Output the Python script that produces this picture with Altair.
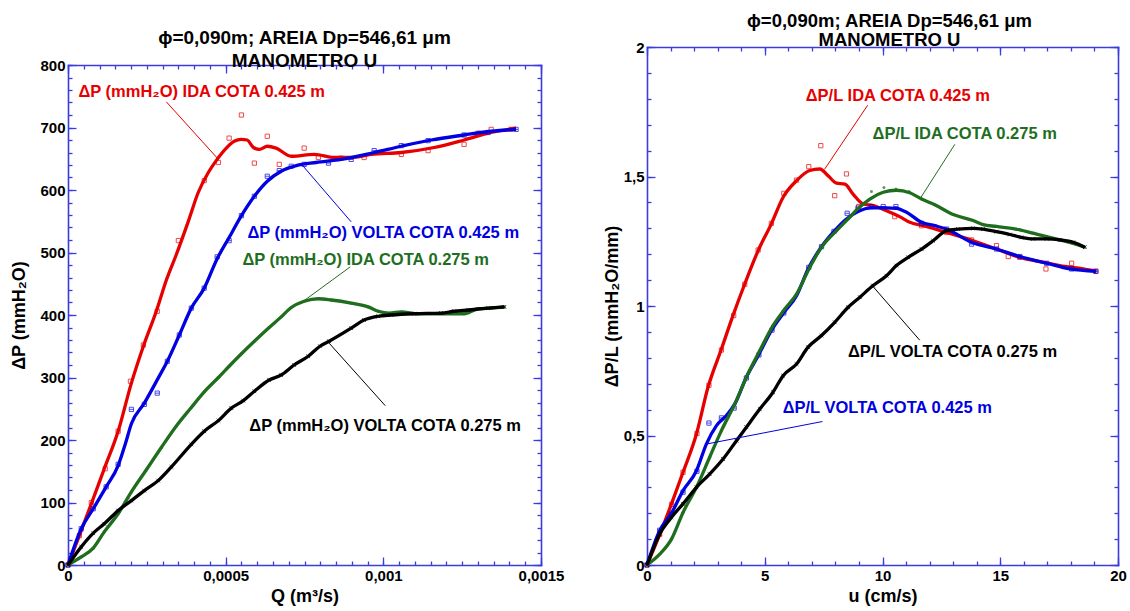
import altair as alt
import pandas as pd

FONT = "Liberation Sans"
FRAME = "#3c3cdc"
RED, BLUE, GREEN, BLACK = "#e60000", "#0000e0", "#1e6e1e", "#000000"

# ---------------- Left panel: ΔP (mmH2O) versus Q (m³/s) ----------------
q_red_line = [0, 0.36e-4, 0.74e-4, 1.15e-4, 1.59e-4, 2.01e-4, 2.39e-4, 2.80e-4, 3.12e-4, 3.43e-4,
              3.81e-4, 4.13e-4, 4.45e-4, 4.70e-4, 5.02e-4, 5.27e-4, 5.50e-4, 5.68e-4, 5.88e-4, 6.07e-4,
              6.32e-4, 6.60e-4, 7.08e-4, 7.81e-4, 8.44e-4, 8.98e-4, 9.62e-4, 10.57e-4, 11.61e-4, 12.56e-4,
              13.42e-4, 14.21e-4]
dp_red_line = [0, 47, 98, 154, 214, 291, 350, 406, 456, 496, 549, 596, 628, 647, 667, 678, 681, 680, 668, 665,
               670, 667, 654, 657, 652, 652, 657, 660, 668, 680, 692, 699]
q_red_pts = [0, 0.36e-4, 0.74e-4, 1.18e-4, 1.59e-4, 1.98e-4, 2.39e-4, 2.83e-4, 3.50e-4, 4.32e-4,
             4.77e-4, 5.11e-4, 5.50e-4, 5.91e-4, 6.32e-4, 6.70e-4, 7.49e-4, 7.94e-4, 8.66e-4, 9.39e-4,
             10.57e-4, 11.42e-4, 12.56e-4, 13.01e-4, 13.42e-4, 14.05e-4]
dp_red_pts = [0, 47, 100, 154, 214, 294, 352, 406, 519, 615, 644, 683, 720, 643, 686, 641, 667, 652, 651, 652,
              657, 663, 673, 691, 697, 697]

q_blue_line = [0, 0.42e-4, 0.80e-4, 1.21e-4, 1.59e-4, 1.82e-4, 2.01e-4, 2.42e-4, 2.86e-4, 3.15e-4,
               3.53e-4, 3.91e-4, 4.32e-4, 4.73e-4, 5.11e-4, 5.50e-4, 5.91e-4, 6.32e-4, 6.76e-4, 7.24e-4,
               7.87e-4, 8.66e-4, 9.71e-4, 10.57e-4, 11.52e-4, 12.56e-4, 13.42e-4, 14.21e-4]
dp_blue_line = [0, 58, 90, 125, 159, 194, 226, 259, 299, 326, 368, 411, 443, 490, 524, 559, 590, 614, 630, 639,
                644, 649, 660, 670, 680, 688, 694, 697]
q_blue_pts = [0, 0.42e-4, 0.80e-4, 1.21e-4, 1.59e-4, 2.01e-4, 2.42e-4, 2.83e-4, 3.15e-4, 3.53e-4,
              3.91e-4, 4.32e-4, 4.73e-4, 5.11e-4, 5.50e-4, 5.91e-4, 6.32e-4, 6.70e-4, 7.08e-4, 7.49e-4,
              8.26e-4, 8.98e-4, 9.71e-4, 10.57e-4, 11.42e-4, 12.56e-4, 13.32e-4, 14.21e-4]
dp_blue_pts = [0, 58, 90, 125, 161, 249, 257, 275, 326, 368, 411, 443, 493, 519, 559, 590, 622, 631, 638, 641,
               643, 649, 663, 671, 679, 688, 692, 697]

q_green_line = [0, 0.42e-4, 0.80e-4, 1.15e-4, 1.59e-4, 2.01e-4, 2.48e-4, 2.96e-4, 3.43e-4, 3.91e-4,
                4.32e-4, 4.77e-4, 5.11e-4, 5.50e-4, 5.91e-4, 6.38e-4, 6.76e-4, 7.08e-4, 7.49e-4, 7.94e-4,
                8.35e-4, 8.98e-4, 9.52e-4, 9.84e-4, 10.19e-4, 10.57e-4, 11.11e-4, 11.83e-4, 12.56e-4, 13.01e-4,
                13.42e-4, 13.84e-4]
dp_green_line = [0, 13, 27, 53, 82, 117, 152, 188, 222, 252, 277, 300, 318, 338, 358, 380, 397, 412, 422, 426,
                 424, 419, 413, 406, 403, 405, 402, 402, 402, 410, 411, 413]

q_black_line = [0, 0.42e-4, 0.80e-4, 1.15e-4, 1.59e-4, 2.01e-4, 2.42e-4, 2.86e-4, 3.28e-4, 3.91e-4,
                4.32e-4, 4.77e-4, 5.18e-4, 5.56e-4, 5.91e-4, 6.38e-4, 6.76e-4, 7.17e-4, 7.62e-4, 7.99e-4,
                8.28e-4, 8.98e-4, 9.39e-4, 9.84e-4, 10.25e-4, 10.98e-4, 11.83e-4, 12.25e-4, 12.69e-4, 13.32e-4,
                13.84e-4]
dp_black_line = [0, 29, 51, 66, 87, 103, 119, 135, 157, 193, 214, 231, 251, 263, 278, 296, 304, 320, 334, 350,
                 358, 379, 392, 398, 400, 402, 403, 406, 408, 411, 413]

left_label_text = ["ΔP (mmH₂O) IDA COTA 0.425 m", "ΔP (mmH₂O) VOLTA COTA 0.425 m",
                   "ΔP (mmH₂O) IDA COTA 0.275 m", "ΔP (mmH₂O) VOLTA COTA 0.275 m"]
left_label_x = [0.33e-4, 5.69e-4, 5.53e-4, 5.75e-4]
left_label_y = [757, 532, 488, 222]
left_lead_x = [3.12e-4, 7.46e-4, 8.95e-4, 8.28e-4]
left_lead_y = [741, 638, 477, 355]
left_lead_x2 = [4.77e-4, 8.98e-4, 7.46e-4, 10.06e-4]
left_lead_y2 = [649, 549, 422, 255]

# ---------------- Right panel: ΔP/L (mmH2O/mm) versus u (cm/s) ----------------
u_red_line = [0, 0.61, 1.04, 1.53, 2.10, 2.59, 3.16, 3.65, 4.15, 4.72, 5.28, 5.78, 6.35, 6.91, 7.34, 7.69,
              8.05, 8.40, 8.75, 9.18, 9.60, 10.17, 10.73, 11.16, 11.72, 12.72, 13.85, 14.84, 15.83, 16.82,
              17.53, 18.52, 19.09]
pl_red_line = [0, 0.134, 0.236, 0.358, 0.506, 0.686, 0.834, 0.963, 1.085, 1.214, 1.317, 1.420, 1.484, 1.523,
               1.529, 1.503, 1.474, 1.471, 1.432, 1.394, 1.388, 1.368, 1.345, 1.323, 1.310, 1.284, 1.252,
               1.220, 1.188, 1.169, 1.156, 1.143, 1.134]
u_red_pts = [0, 0.54, 1.04, 1.53, 2.12, 2.63, 3.16, 3.68, 4.15, 4.72, 5.28, 5.81, 6.35, 6.87, 7.38, 7.97,
             8.47, 8.99, 10.52, 11.66, 12.72, 13.78, 14.84, 15.34, 15.83, 16.94, 18.03, 19.06]
pl_red_pts = [0, 0.118, 0.234, 0.358, 0.508, 0.694, 0.830, 0.963, 1.084, 1.216, 1.319, 1.435, 1.486, 1.538,
              1.619, 1.426, 1.510, 1.384, 1.345, 1.310, 1.284, 1.255, 1.233, 1.191, 1.188, 1.143, 1.165, 1.134]

u_blue_line = [0, 0.54, 1.04, 1.53, 2.10, 2.52, 2.95, 3.37, 3.73, 4.22, 4.72, 5.28, 5.81, 6.35, 6.84, 7.41,
               7.97, 8.47, 8.96, 9.53, 10.17, 10.59, 11.02, 11.66, 12.22, 12.72, 13.78, 14.84, 15.83, 16.97,
               17.96, 19.06]
pl_blue_line = [0, 0.133, 0.200, 0.287, 0.364, 0.467, 0.538, 0.577, 0.622, 0.725, 0.808, 0.905, 0.974, 1.040,
                1.143, 1.229, 1.291, 1.336, 1.365, 1.379, 1.379, 1.377, 1.362, 1.323, 1.310, 1.297, 1.246,
                1.220, 1.191, 1.165, 1.143, 1.134]
u_blue_pts = [0, 0.54, 1.04, 1.53, 2.12, 2.63, 3.16, 3.70, 4.22, 4.75, 5.31, 5.81, 6.87, 7.41, 7.94, 8.50,
              8.96, 9.53, 10.03, 10.57, 11.66, 12.72, 13.78, 14.84, 15.83, 16.97, 18.03, 19.06]
pl_blue_pts = [0, 0.134, 0.197, 0.281, 0.362, 0.548, 0.568, 0.606, 0.722, 0.811, 0.907, 0.973, 1.149, 1.229,
               1.288, 1.358, 1.378, 1.384, 1.384, 1.384, 1.319, 1.297, 1.239, 1.220, 1.191, 1.165, 1.143, 1.134]

u_green_line = [0, 0.54, 1.04, 1.53, 2.10, 2.66, 3.16, 3.73, 4.22, 4.79, 5.35, 5.85, 6.35, 6.91, 7.41, 8.05,
                8.54, 8.90, 9.46, 10.03, 10.59, 11.16, 11.66, 12.22, 13.00, 13.85, 14.27, 14.84, 15.83, 16.40,
                16.97, 17.53, 18.10, 18.59]
pl_green_line = [0, 0.042, 0.100, 0.203, 0.300, 0.416, 0.519, 0.622, 0.725, 0.828, 0.924, 0.988, 1.046, 1.149,
                 1.227, 1.291, 1.336, 1.371, 1.413, 1.439, 1.447, 1.437, 1.413, 1.391, 1.353, 1.330, 1.314,
                 1.307, 1.294, 1.281, 1.268, 1.255, 1.242, 1.227]
u_green_pts = [0, 1.04, 1.53, 2.10, 2.66, 3.16, 3.73, 4.22, 4.79, 5.35, 5.85, 6.35, 6.91, 7.41, 8.05, 8.54,
               9.53, 10.06, 10.57, 11.13, 11.66, 12.22, 13.00, 13.85, 14.84, 15.83, 16.40, 16.97, 17.53, 18.10,
               18.59]
pl_green_pts = [0, 0.100, 0.203, 0.300, 0.416, 0.519, 0.622, 0.725, 0.828, 0.924, 0.988, 1.046, 1.149, 1.227,
                1.291, 1.336, 1.442, 1.458, 1.452, 1.442, 1.413, 1.391, 1.353, 1.330, 1.307, 1.294, 1.281,
                1.268, 1.255, 1.242, 1.227]

u_black_line = [0, 0.54, 1.04, 1.53, 2.10, 2.66, 3.23, 3.80, 4.22, 4.79, 5.35, 5.78, 6.35, 6.84, 7.41, 7.97,
                8.54, 9.04, 9.60, 10.17, 10.59, 11.09, 11.66, 12.15, 12.72, 13.21, 13.85, 14.27, 14.84, 15.41,
                15.90, 16.40, 16.97, 17.53, 18.10, 18.59]
pl_black_line = [0, 0.120, 0.184, 0.236, 0.300, 0.351, 0.409, 0.480, 0.532, 0.602, 0.667, 0.731, 0.776, 0.841,
                 0.886, 0.937, 0.995, 1.034, 1.079, 1.117, 1.156, 1.188, 1.220, 1.252, 1.291, 1.297, 1.300,
                 1.297, 1.287, 1.276, 1.265, 1.259, 1.259, 1.255, 1.246, 1.227]

right_label_text = ["ΔP/L IDA COTA 0.425 m", "ΔP/L VOLTA COTA 0.425 m",
                    "ΔP/L IDA COTA 0.275 m", "ΔP/L VOLTA COTA 0.275 m"]
right_label_x = [6.74, 5.76, 9.58, 8.53]
right_label_y = [1.809, 0.605, 1.663, 0.821]
right_lead_x = [9.37, 7.45, 13.07, 9.59]
right_lead_y = [1.775, 0.554, 1.624, 1.076]
right_lead_x2 = [7.54, 2.52, 11.58, 11.58]
right_lead_y2 = [1.528, 0.467, 1.412, 0.868]

SERIES_COLORS = [RED, BLUE, GREEN, BLACK]
TITLE_LINES = ["ϕ=0,090m; AREIA Dp=546,61 μm", "MANOMETRO U"]

# marker styles: open square, square with a bar, small dot, small x
MARKS = [
    dict(shape="square", filled=False, size=18, strokeWidth=1),
    dict(shape="M-1,-1H1V1H-1ZM-1,0H1", filled=False, size=18, strokeWidth=1),
    dict(shape="circle", filled=True, size=9, strokeWidth=0),
    dict(shape="M-1,-1L1,1M-1,1L1,-1", filled=False, size=14, strokeWidth=1),
]

VIEW_H = 518  # both panels share this view height


def steps(step, stop):
    n = int(round(stop / step))
    return [round(i * step, 10) for i in range(n + 1)]


def tick_axis(orient, values, size, shift=0):
    # inward ticks only: the axis line is pulled inside the frame by its own tick length
    return alt.Axis(orient=orient, values=values, tickSize=size, offset=-(size + shift), labels=False,
                    domain=False, grid=False, tickColor=FRAME, tickWidth=1.3, title=None)


def frame_axis(orient, shift=0):
    return alt.Axis(orient=orient, offset=-shift, domain=True, domainColor=FRAME, domainWidth=1.6,
                    domainCap="square", ticks=False, labels=False, grid=False, title=None)


def main_axis(orient, values, title, title_pad):
    return alt.Axis(orient=orient, values=values, tickSize=8, offset=-8, domain=False, grid=False,
                    tickColor=FRAME, tickWidth=1.3,
                    labelExpr="replace(toString(datum.value), '.', ',')",
                    labelFont=FONT, labelFontSize=15, labelFontWeight="bold", labelColor="black",
                    labelPadding=3, labelFlush=False, labelOverlap=False,
                    title=title, titleFont=FONT, titleFontSize=18, titleFontWeight="bold",
                    titleColor="black", titlePadding=title_pad)


def panel(lines, points, labels, leaders, xdom, ydom, xmaj, xmin, ymaj, ymin,
          xtitle, ytitle, ytitle_pad, width, top_gap, title):
    sx = alt.Scale(domain=xdom, nice=False, zero=False)
    sy = alt.Scale(domain=ydom, nice=False, zero=False, range=[VIEW_H, top_gap])
    axes = [
        (main_axis("bottom", xmaj, xtitle, 4), main_axis("left", ymaj, ytitle, ytitle_pad)),
        (tick_axis("bottom", xmin, 4), tick_axis("left", ymin, 4)),
        (tick_axis("top", xmaj, 8, top_gap), tick_axis("right", ymaj, 8)),
        (tick_axis("top", xmin, 4, top_gap), tick_axis("right", ymin, 4)),
        (frame_axis("bottom"), frame_axis("left")),
        (frame_axis("top", top_gap), frame_axis("right")),
        (None, None),
        (None, None),
    ]
    layers = []
    k = 0
    for i, ((lx, ly), (px, py)) in enumerate(zip(lines, points)):
        color = SERIES_COLORS[i]
        ax, ay = axes[k]
        k += 1
        layers.append(
            alt.Chart(pd.DataFrame({"x": lx, "y": ly}))
            .mark_line(color=color, strokeWidth=3.3, interpolate="monotone")
            .encode(x=alt.X("x:Q", scale=sx, axis=ax), y=alt.Y("y:Q", scale=sy, axis=ay))
        )
        ax, ay = axes[k]
        k += 1
        layers.append(
            alt.Chart(pd.DataFrame({"x": px, "y": py}))
            .mark_point(color=color, **MARKS[i])
            .encode(x=alt.X("x:Q", scale=sx, axis=ax), y=alt.Y("y:Q", scale=sy, axis=ay))
        )
    text, tx, ty = labels
    lx0, ly0, lx1, ly1 = leaders
    layers.append(
        alt.Chart(pd.DataFrame({"x": lx0, "y": ly0, "x2": lx1, "y2": ly1, "c": SERIES_COLORS}))
        .mark_rule(strokeWidth=1)
        .encode(x=alt.X("x:Q", scale=sx, axis=None), y=alt.Y("y:Q", scale=sy, axis=None),
                x2="x2:Q", y2="y2:Q", color=alt.Color("c:N", scale=None))
    )
    layers.append(
        alt.Chart(pd.DataFrame({"x": tx, "y": ty, "t": text, "c": SERIES_COLORS}))
        .mark_text(align="left", baseline="middle", font=FONT, fontSize=16.5, fontWeight="bold")
        .encode(x=alt.X("x:Q", scale=sx, axis=None), y=alt.Y("y:Q", scale=sy, axis=None),
                text="t:N", color=alt.Color("c:N", scale=None))
    )
    return (alt.layer(*layers)
            .resolve_axis(x="independent", y="independent")
            .properties(width=width, height=VIEW_H, title=title))


left = panel(
    lines=[(q_red_line, dp_red_line), (q_blue_line, dp_blue_line),
           (q_green_line, dp_green_line), (q_black_line, dp_black_line)],
    points=[(q_red_pts, dp_red_pts), (q_blue_pts, dp_blue_pts),
            (q_green_line, dp_green_line), (q_black_line, dp_black_line)],
    labels=(left_label_text, left_label_x, left_label_y),
    leaders=(left_lead_x, left_lead_y, left_lead_x2, left_lead_y2),
    xdom=[0, 0.0015], ydom=[0, 800],
    xmaj=steps(0.0005, 0.0015), xmin=steps(0.00005, 0.0015),
    ymaj=steps(100, 800), ymin=steps(20, 800),
    xtitle="Q (m³/s)", ytitle="ΔP (mmH₂O)", ytitle_pad=11,
    width=473, top_gap=18,
    title=alt.TitleParams(text=TITLE_LINES, font=FONT, fontSize=19, fontWeight="bold",
                          color="black", lineHeight=23, anchor="middle", frame="group", offset=-24),
)

right = panel(
    lines=[(u_red_line, pl_red_line), (u_blue_line, pl_blue_line),
           (u_green_line, pl_green_line), (u_black_line, pl_black_line)],
    points=[(u_red_pts, pl_red_pts), (u_blue_pts, pl_blue_pts),
            (u_green_pts, pl_green_pts), (u_black_line, pl_black_line)],
    labels=(right_label_text, right_label_x, right_label_y),
    leaders=(right_lead_x, right_lead_y, right_lead_x2, right_lead_y2),
    xdom=[0, 20], ydom=[0, 2],
    xmaj=steps(5, 20), xmin=steps(1, 20),
    ymaj=steps(0.5, 2), ymin=steps(0.1, 2),
    xtitle="u (cm/s)", ytitle="ΔP/L (mmH₂O/mm)", ytitle_pad=2,
    width=471, top_gap=0,
    title=alt.TitleParams(text=TITLE_LINES, font=FONT, fontSize=18.5, fontWeight="bold",
                          color="black", lineHeight=19, anchor="middle", frame="group", offset=-9, dx=7),
)

chart = (
    alt.hconcat(left, right, spacing=37)
    .configure_view(stroke="transparent")
    .properties(padding={"left": 10, "top": 11, "right": 0, "bottom": 0}, background="white")
)

chart.save("out.html", embed_options={"renderer": "svg", "actions": False})
